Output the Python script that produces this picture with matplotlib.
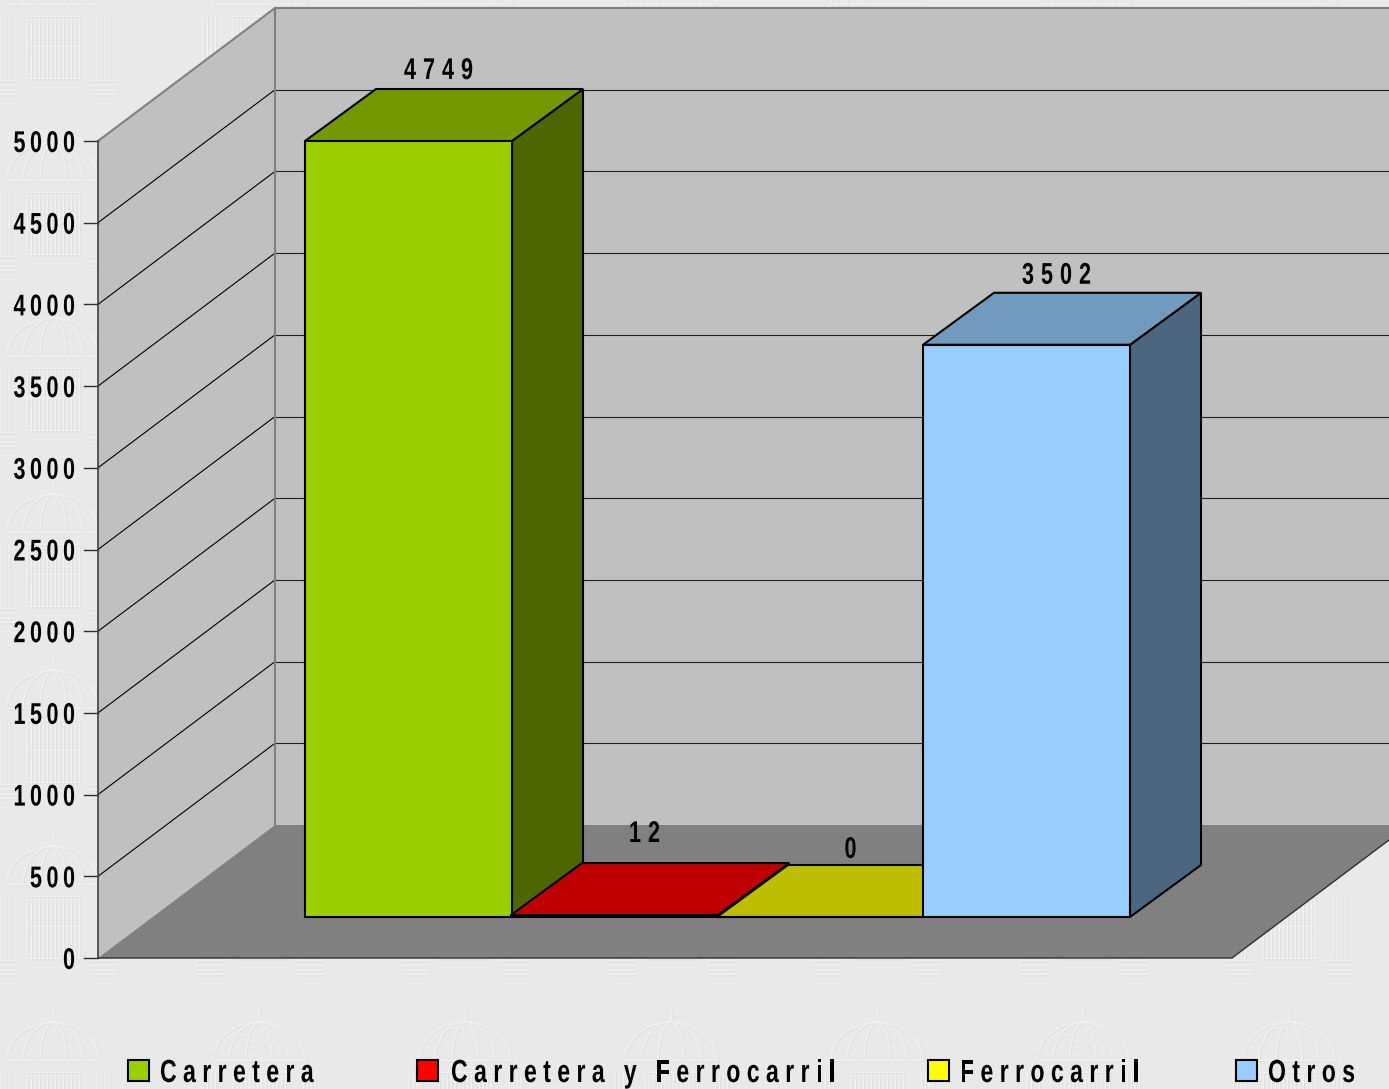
#!/usr/bin/env python3
"""3D-look bar chart drawn on one pixel-sized axes (Carretera / Ferrocarril / Otros)."""
import numpy as np
import matplotlib
matplotlib.use("Agg")
import matplotlib.pyplot as plt
import matplotlib.text as mtext
from matplotlib.collections import LineCollection
from matplotlib.font_manager import FontProperties
from matplotlib.patches import Polygon, Rectangle
from matplotlib.textpath import TextPath, text_to_path
from matplotlib.transforms import Affine2D

categories = ["Carretera", "Carretera y Ferrocarril", "Ferrocarril", "Otros"]
values = [4749, 12, 0, 3502]
y_ticks = [0, 500, 1000, 1500, 2000, 2500, 3000, 3500, 4000, 4500, 5000]

front_colors = ["#9CCF00", "#FF0000", "#FFFF00", "#99CCFF"]
top_colors = ["#749900", "#BE0000", "#BEBE00", "#7299BE"]
side_colors = ["#4E6600", "#800000", "#808000", "#4C6680"]
label_dy = [10, 21, 7, 9]
legend_swatch_x = [128, 417, 928, 1236]
legend_text_x = [160, 451, 960, 1268]

W, H = 1389, 1089
X0, Y0 = 98, 958          # front-left corner of the floor
BOX_DX, BOX_DY = 177, -133  # floor depth
FLOOR_W = 1134
PX_PER_UNIT = (958 - 141) / 5000
BAR_X, BAR_Y, BAR_W, SLOT = 305, 917, 207, 206
BAR_DX, BAR_DY = 71, -52
NARROW = 0.72   # no Arial Narrow here, so squeeze Liberation Sans Bold


class TrackedText(mtext.Text):
    """Keeps the whole string, but paints it narrowed and with extra letter spacing."""

    def __init__(self, *args, tracking=0, em=30, **kw):
        super().__init__(*args, **kw)
        self.tracking = tracking
        self.em = em

    def draw(self, renderer):
        s = self.get_text()
        prop = FontProperties(family="Liberation Sans", weight="bold", size=self.em)
        adv = [text_to_path.get_text_width_height_descent(s[:i], prop, False)[0] * NARROW if i else 0
               for i in range(len(s) + 1)]
        total = adv[-1] + self.tracking * (len(s) - 1)
        x, y = self.get_position()
        x0 = {"left": x, "center": x - total / 2, "right": x - total}[self.get_ha()]
        gc = renderer.new_gc()
        gc.set_linewidth(0)
        for i, ch in enumerate(s):
            if ch == " ":
                continue
            tr = Affine2D().scale(NARROW, -1).translate(x0 + adv[i] + i * self.tracking, y)
            renderer.draw_path(gc, TextPath((0, 0), ch, size=self.em, prop=prop),
                               tr + self.get_transform(), rgbFace=(0, 0, 0))
        gc.restore()


def label(ax, x, y, s, em=30, tracking=4.5, ha="center"):
    ax.add_artist(TrackedText(x, y, s, tracking=tracking, em=em, ha=ha, va="baseline", color="black",
                              fontfamily="Liberation Sans", fontweight="bold",
                              transform=ax.transData, zorder=10))


def crest_segments(cx, top):
    """Rough outline of the embossed coat of arms used as page background."""
    segs = []
    t = np.linspace(np.pi, 2 * np.pi, 15)
    for rx, ry in [(46, 38), (30, 38), (13, 38)]:
        segs.append(np.c_[cx + rx * np.cos(t), top + 48 + ry * np.sin(t)])
    segs.append(np.array([[cx - 46, top + 48], [cx + 46, top + 48]]))
    segs.append(np.array([[cx, top - 4], [cx, top + 10]]))
    for sx in np.arange(-26, 27, 4):
        segs.append(np.array([[cx + sx, top + 62], [cx + sx, top + 122]]))
    for dy in (60, 90, 122):
        segs.append(np.array([[cx - 28, top + dy], [cx + 28, top + dy]]))
    for px in (-50, 50):
        for off in (-6, -2, 2, 6):
            segs.append(np.array([[cx + px + off, top + 60], [cx + px + off, top + 122]]))
        for dy in (124, 129, 134, 138):
            segs.append(np.array([[cx + px - 14, top + dy], [cx + px + 14, top + dy]]))
    return segs


def draw_watermark(ax):
    segs = []
    for cx in 53 + 206 * np.arange(7):
        for top in 1012 - 176 * np.arange(7):
            segs += crest_segments(cx, top)
    ax.add_collection(LineCollection([s + [1.0, 1.0] for s in segs], colors="#e0e0e0", lw=1.0, zorder=0))
    ax.add_collection(LineCollection(segs, colors="#f1f1f1", lw=1.0, zorder=0.1))


def poly(ax, pts, face, edge="none", lw=0, z=2):
    ax.add_patch(Polygon(pts, closed=True, facecolor=face, edgecolor=edge, lw=lw, zorder=z,
                         joinstyle="miter"))


def draw_box(ax):
    top_y = Y0 - PX_PER_UNIT * y_ticks[-1]
    bx, by = X0 + BOX_DX, Y0 + BOX_DY
    back_top = by - PX_PER_UNIT * y_ticks[-1]
    poly(ax, [(bx, back_top), (W, back_top), (W, by), (bx, by)], "#C0C0C0")
    poly(ax, [(X0, top_y), (bx, back_top), (bx, by), (X0, Y0)], "#C0C0C0")
    poly(ax, [(X0, Y0), (bx, by), (X0 + FLOOR_W + BOX_DX, by), (X0 + FLOOR_W, Y0)], "#808080")
    for v in y_ticks:
        yf = Y0 - PX_PER_UNIT * v
        yb = by - PX_PER_UNIT * v
        if v > 0 and v < y_ticks[-1]:
            ax.plot([X0, bx], [yf, yb], color="black", lw=0.8, zorder=3)
            ax.plot([bx, W], [yb, yb], color="#202020", lw=0.8, zorder=3)
        ax.plot([84, X0], [yf, yf], color="#303030", lw=1.0, zorder=3)
        label(ax, 75, yf + 11, str(v), ha="right")
    ax.plot([X0, bx, W], [top_y, back_top, back_top], color="#808080", lw=1.5, zorder=3)
    ax.plot([bx, bx], [back_top, by], color="#808080", lw=1.5, zorder=3)
    ax.plot([X0, X0], [top_y, Y0], color="#404040", lw=1.2, zorder=3)
    ax.plot([X0, X0 + FLOOR_W, X0 + FLOOR_W + BOX_DX], [Y0, Y0, by], color="#303030", lw=1.0, zorder=3)


def draw_bars(ax):
    for i, v in enumerate(values):
        x = BAR_X + SLOT * i
        y = BAR_Y - PX_PER_UNIT * v
        z = 4 + i * 0.1
        kw = dict(edge="black", lw=1.5, z=z)
        poly(ax, [(x + BAR_W, BAR_Y), (x + BAR_W + BAR_DX, BAR_Y + BAR_DY),
                  (x + BAR_W + BAR_DX, y + BAR_DY), (x + BAR_W, y)], side_colors[i], **kw)
        poly(ax, [(x, y), (x + BAR_DX, y + BAR_DY), (x + BAR_W + BAR_DX, y + BAR_DY),
                  (x + BAR_W, y)], top_colors[i], **kw)
        poly(ax, [(x, BAR_Y), (x, y), (x + BAR_W, y), (x + BAR_W, BAR_Y)], front_colors[i], **kw)
        label(ax, x + BAR_W / 2 + 30, y + BAR_DY - label_dy[i], str(v), tracking=7)


def draw_legend(ax):
    for i, name in enumerate(categories):
        ax.add_patch(Rectangle((legend_swatch_x[i], 1060), 21, 21, facecolor=front_colors[i],
                               edgecolor="black", lw=1.5, zorder=5))
        label(ax, legend_text_x[i], 1082, name, em=32, tracking=6.4, ha="left")


def main():
    fig = plt.figure(figsize=(W / 100, H / 100), dpi=100, facecolor="#E9E9E9")
    ax = fig.add_axes([0, 0, 1, 1])
    ax.set_xlim(0, W)
    ax.set_ylim(H, 0)
    ax.axis("off")
    draw_watermark(ax)
    draw_box(ax)
    draw_bars(ax)
    draw_legend(ax)
    fig.savefig("out.png", dpi=100, facecolor=fig.get_facecolor())
    plt.close(fig)


if __name__ == "__main__":
    main()
